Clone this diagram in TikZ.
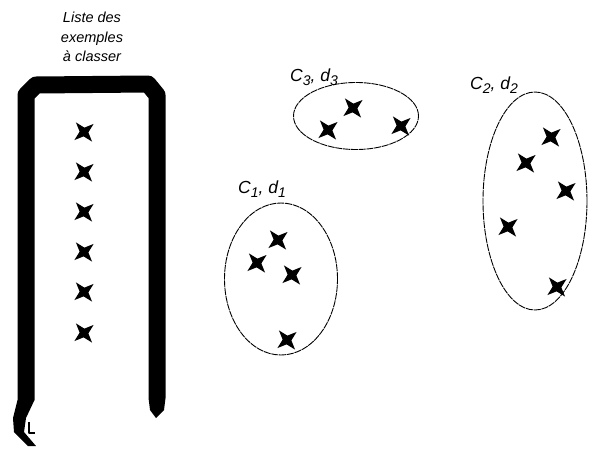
\documentclass[tikz,border=0pt]{standalone}
\usepackage{fontspec}
\setmainfont{Liberation Sans}
\usepackage{tikz}
\usetikzlibrary{shapes.geometric, positioning}

\tikzset{
  croix/.pic={
    \fill[rotate=40] (0,12.5) -- (3.1,3.1) -- (12.5,0) -- (3.1,-3.1)
      -- (0,-12.5) -- (-3.1,-3.1) -- (-12.5,0) -- (-3.1,3.1) -- cycle;
  }
}
\newcommand{\indice}[1]{\raisebox{-4pt}{\fontsize{14}{14}\selectfont #1}}

\begin{document}
\begin{tikzpicture}[x=1pt, y=-1pt, line join=round,
    groupe/.style={draw, ellipse, inner sep=0pt,
      line width=0.9pt, dash pattern=on 7pt off 0.8pt},
    etiq/.style={font=\fontsize{17.5}{18}\selectfont\itshape, inner sep=0pt}]
  \useasboundingbox (0,0) rectangle (590,448);

  % Title above the list
  \node[font=\fontsize{14.5}{19.5}\selectfont\itshape, align=center] (titre)
    at (92,37) {Liste des\\exemples\\à classer};

  % Thick frame of the list
  \draw[line width=17pt, line cap=butt] (26,400) -- (26,95) -- (36,85)
    -- (148,84) -- (157,95) -- (157,398);
  \fill (17.5,400) -- (34.5,400) -- (26,418) -- (24,432) -- (36,446)
    -- (28,446) -- (14,432) -- (13,418) -- cycle;
  \fill (148.5,398) -- (165.5,398) -- (164,410) -- (156,418) -- (150,410) -- cycle;
  \draw[line width=1.2pt] (29,422) -- (29,433) -- (35,433);

  % Examples still to classify
  \foreach \i/\y in {1/132, 2/172, 3/212, 4/252, 5/292, 6/333}
    \pic (l\i) at (84,\y) {croix};

  % Group C1
  \node[groupe, minimum width=113pt, minimum height=152pt] (c1) at (281,279) {};
  \node[etiq] (lab1) at (262,189) {C\indice{1}, d\indice{1}};
  \pic (a1) at (278,240) {croix};
  \pic (a2) at (257,263) {croix};
  \pic (a3) at (292,275) {croix};
  \pic (a4) at (287,340) {croix};

  % Group C3
  \node[groupe, minimum width=125pt, minimum height=67pt] (c3) at (356,116) {};
  \node[etiq] (lab3) at (314,77) {C\indice{3}, d\indice{3}};
  \pic (b1) at (353,108) {croix};
  \pic (b2) at (328,130) {croix};
  \pic (b3) at (401,126) {croix};

  % Group C2
  \node[groupe, minimum width=104pt, minimum height=218pt] (c2) at (535,201) {};
  \node[etiq] (lab2) at (494,85) {C\indice{2}, d\indice{2}};
  \pic (d1) at (551,137) {croix};
  \pic (d2) at (526,163) {croix};
  \pic (d3) at (566,191) {croix};
  \pic (d4) at (508,227) {croix};
  \pic (d5) at (557,287) {croix};
\end{tikzpicture}
\end{document}
